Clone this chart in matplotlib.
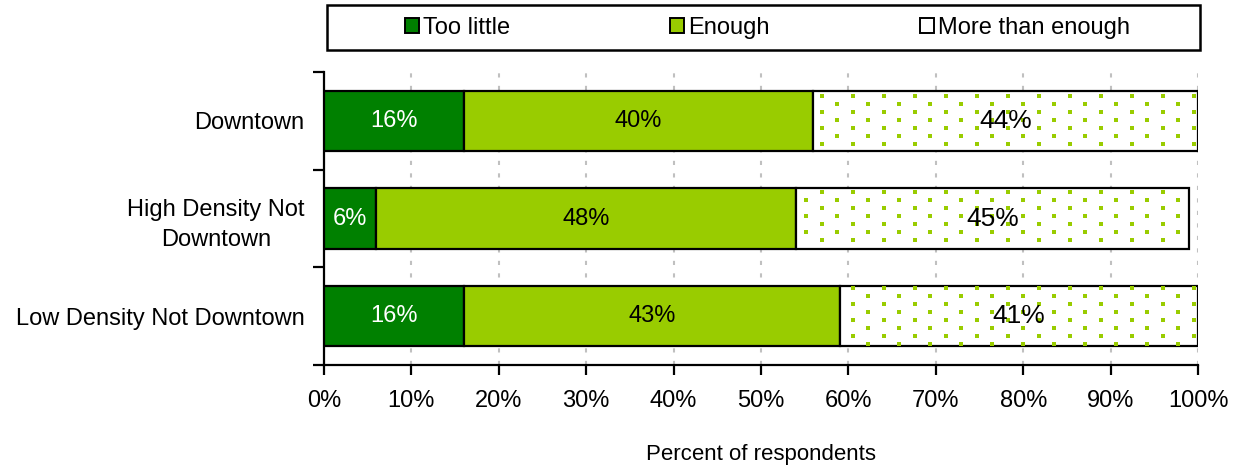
import matplotlib
matplotlib.use("Agg")
import numpy as np
import matplotlib.pyplot as plt
from matplotlib.patches import Patch, Rectangle
from matplotlib.ticker import FixedLocator, PercentFormatter

plt.rcParams['font.family'] = ['Liberation Sans', 'DejaVu Sans']

categories = ["Downtown", "High Density Not\nDowntown", "Low Density Not Downtown"]
too_little = [16, 6, 16]
enough = [40, 48, 43]
more_than_enough = [44, 45, 41]
series_names = ["Too little", "Enough", "More than enough"]

dark_green = "#008000"
light_green = "#99cc00"

W, H = 1239, 465
fig = plt.figure(figsize=(W / 100, H / 100), dpi=100)
ax = fig.add_axes([324 / W, 1 - 365 / H, (1198 - 324) / W, (365 - 72) / H])

n = len(categories)
ypos = np.arange(n)
h = 0.62

ax.set_xlim(0, 100)
ax.set_ylim(n - 0.5, -0.5)

# grid behind bars
ax.set_axisbelow(True)
ax.xaxis.grid(True, linestyle=(0, (2, 4)), color="#c0c0c0", linewidth=1.5)

left1 = np.zeros(n)
left2 = np.array(too_little, dtype=float)
left3 = left2 + np.array(enough)

ax.barh(ypos, too_little, left=left1, height=h, color=dark_green,
        edgecolor="black", linewidth=1.6, zorder=3)
ax.barh(ypos, enough, left=left2, height=h, color=light_green,
        edgecolor="black", linewidth=1.6, zorder=3)
bars3 = ax.barh(ypos, more_than_enough, left=left3, height=h, color="white",
                edgecolor="black", linewidth=1.6, zorder=3)

# dotted fill pattern: staggered lattice of small squares, clipped to each bar
to_data = ax.transData.inverted()
step_x, step_y = 31.0, 8.0
dots = []
for j in range(-4, 40):
    py = 96 + step_y * j
    x0 = 821.7 + (15.5 if j % 2 else 0.0)
    for p in x0 + step_x * np.arange(-20, 20):
        dots.append((p, H - py))
dots = to_data.transform(np.array(dots))
for rect in bars3:
    x_a, y_a = rect.get_x(), rect.get_y()
    x_b, y_b = x_a + rect.get_width(), y_a + rect.get_height()
    mx, my = 0.25, 0.02
    inside = ((dots[:, 0] > x_a + mx) & (dots[:, 0] < x_b - mx) &
              (dots[:, 1] > y_a + my) & (dots[:, 1] < y_b - my))
    ax.scatter(dots[inside, 0], dots[inside, 1], marker="s", s=5,
               color=light_green, linewidths=0, zorder=3.5)

for i in range(n):
    ax.text(left1[i] + too_little[i] / 2, i, f"{too_little[i]}%", ha="center",
            va="center", color="white", fontsize=17, zorder=5)
    ax.text(left2[i] + enough[i] / 2, i, f"{enough[i]}%", ha="center",
            va="center", color="black", fontsize=17, zorder=5)
    ax.text(left3[i] + more_than_enough[i] / 2, i, f"{more_than_enough[i]}%",
            ha="center", va="center", color="black", fontsize=19, zorder=5)

ax.set_xticks(range(0, 101, 10))
ax.xaxis.set_major_formatter(PercentFormatter(decimals=0))
ax.set_yticks(ypos)
ax.set_yticklabels(categories, multialignment="center")
for lab in ax.get_yticklabels():
    lab.set_linespacing(1.45)
ax.yaxis.set_minor_locator(FixedLocator([i - 0.5 for i in range(n + 1)]))
ax.tick_params(axis="y", which="major", length=0, pad=14, labelsize=17)
ax.tick_params(axis="y", which="minor", length=8, width=1.6, direction="out")
ax.tick_params(axis="x", which="major", length=7, width=1.6, direction="out",
               pad=11, labelsize=17)

for side in ("top", "right"):
    ax.spines[side].set_visible(False)
for side in ("left", "bottom"):
    ax.spines[side].set_linewidth(1.6)

ax.set_xlabel("Percent of respondents", fontsize=16, labelpad=23)

# legend with its own frame across the top
fig.patches.append(Rectangle((327 / W, 1 - 50 / H), (1200 - 327) / W, 45 / H,
                             transform=fig.transFigure, fill=False,
                             edgecolor="black", linewidth=1.8))
handles = [
    Patch(facecolor=dark_green, edgecolor="black", linewidth=1.4),
    Patch(facecolor=light_green, edgecolor="black", linewidth=1.4),
    Patch(facecolor="white", edgecolor="black", linewidth=1.4),
]
legend_x = [405, 670, 920]
for hd, name, lx in zip(handles, series_names, legend_x):
    fig.legend([hd], [name], loc="center left",
               bbox_to_anchor=(lx / W, 1 - 28 / H), frameon=False,
               fontsize=17, handlelength=0.6, handleheight=0.6,
               handletextpad=0.15, borderpad=0, borderaxespad=0)

fig.savefig("out.png", dpi=100)
